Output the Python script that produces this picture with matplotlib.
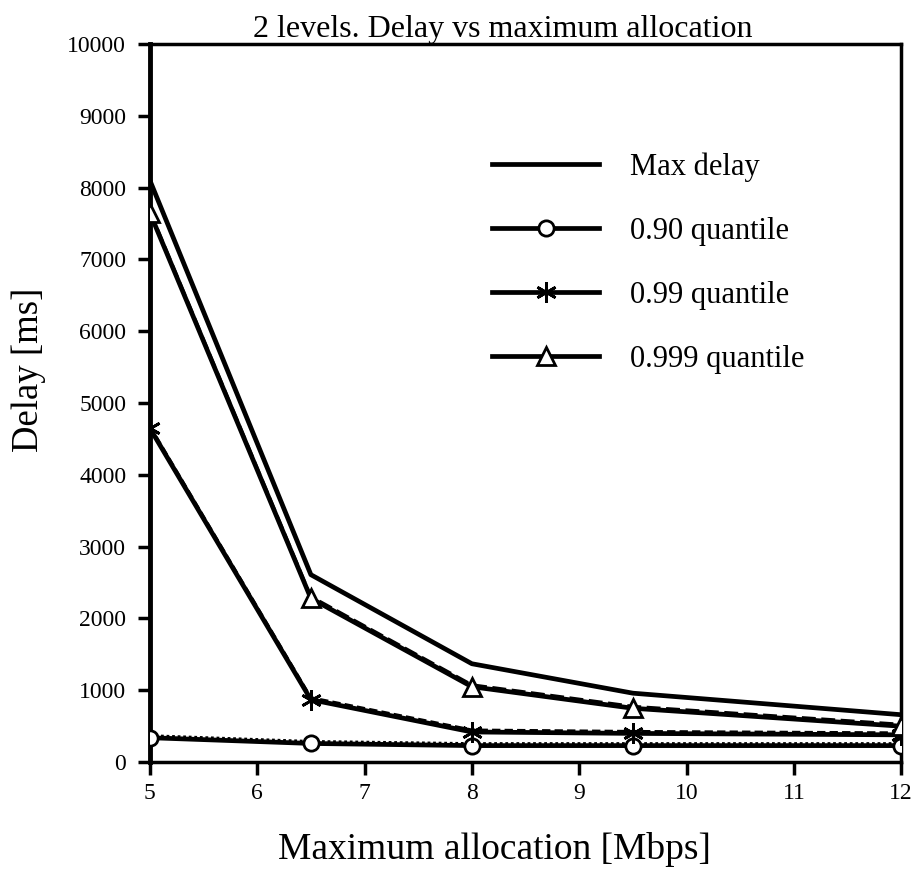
import matplotlib
matplotlib.use("Agg")
import matplotlib.pyplot as plt
import matplotlib.transforms as mtransforms
from matplotlib.lines import Line2D

plt.rcParams["font.family"] = ["Liberation Serif", "DejaVu Serif"]

alloc = [5, 6.5, 8, 9.5, 12]
max_delay = [8100, 2610, 1370, 960, 660]
q90 = [340, 260, 230, 230, 230]
q99 = [4650, 870, 420, 400, 380]
q999 = [7650, 2280, 1050, 750, 500]

fig = plt.figure(figsize=(9.14, 8.71), dpi=100)
ax = fig.add_axes([0.164, 0.125, 0.822, 0.8245])

lw = 3.4
# offset copy for the thin patterned overlay
shifted = mtransforms.offset_copy(ax.transData, fig=fig, x=0, y=1.5, units="points")

ax.plot(alloc, max_delay, color="black", lw=lw, solid_capstyle="round", zorder=3)

ax.plot(alloc, q90, color="black", lw=lw, zorder=3)
ax.plot(alloc, q90, color="black", lw=2, ls=(0, (1, 1)), transform=shifted, zorder=3)
ax.plot(alloc, q90, ls="none", marker="o", ms=11, mfc="white", mec="black", mew=2, zorder=5)

ax.plot(alloc, q99, color="black", lw=lw, zorder=3)
ax.plot(alloc, q99, color="black", lw=2, ls=(0, (3, 1.5)), transform=shifted, zorder=3)
ax.plot(alloc, q99, ls="none", marker=(6, 2, 0), ms=15, mec="black", mew=2, zorder=5)

ax.plot(alloc, q999, color="black", lw=lw, zorder=3)
ax.plot(alloc, q999, color="black", lw=2, ls=(0, (5, 2)), transform=shifted, zorder=3)
ax.plot(alloc, q999, ls="none", marker="^", ms=13, mfc="white", mec="black", mew=2, zorder=5)

ax.set_xlim(5, 12)
ax.set_ylim(0, 10000)
ax.set_xticks([5, 6, 7, 8, 9, 10, 11, 12])
ax.set_yticks(range(0, 10001, 1000))
ax.tick_params(direction="out", length=9, width=2.5, labelsize=17)
ax.tick_params(axis="x", pad=6)
ax.tick_params(axis="y", pad=8)
for s in ax.spines.values():
    s.set_linewidth(2.5)
ax.spines["left"].set_linewidth(3.5)

ax.set_title("2 levels. Delay vs maximum allocation", fontsize=23, x=0.47, pad=4)
ax.set_xlabel("Maximum allocation [Mbps]", fontsize=27, va="center")
ax.xaxis.set_label_coords(0.459, -0.121)
ax.set_ylabel("Delay [ms]", fontsize=26.5, va="center")
ax.yaxis.set_label_coords(-0.161, 0.546)

handles = [
    Line2D([], [], color="black", lw=lw),
    Line2D([], [], color="black", lw=lw, marker="o", ms=11, mfc="white", mec="black", mew=2),
    Line2D([], [], color="black", lw=lw, marker=(6, 2, 0), ms=15, mec="black", mew=2),
    Line2D([], [], color="black", lw=lw, marker="^", ms=13, mfc="white", mec="black", mew=2),
]
labels = ["Max delay", "0.90 quantile", "0.99 quantile", "0.999 quantile"]
ax.legend(handles, labels, loc="upper left", bbox_to_anchor=(0.419, 0.887),
          frameon=False, fontsize=22, handlelength=3.5, labelspacing=1.14,
          handletextpad=1.0)

fig.savefig("out.png", dpi=100)
